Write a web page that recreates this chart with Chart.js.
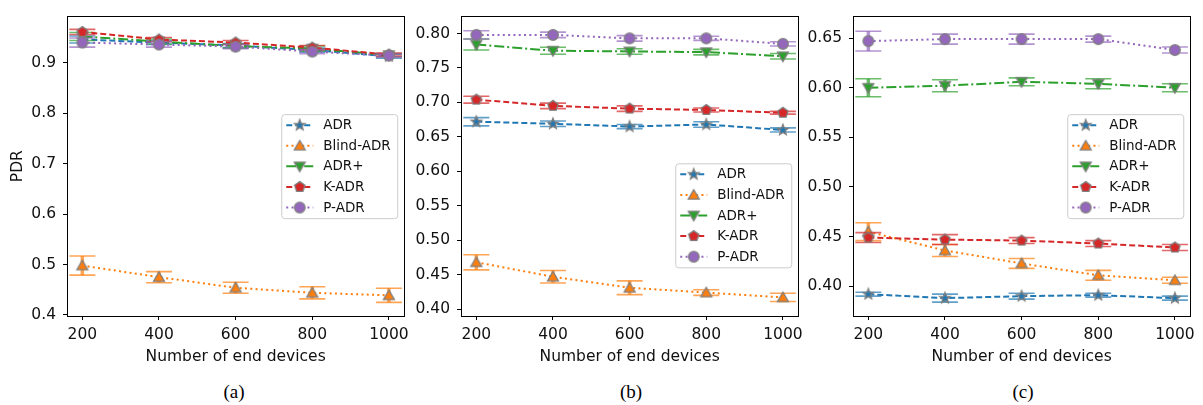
<!DOCTYPE html>
<html>
<head>
<meta charset="utf-8">
<script src="https://cdn.jsdelivr.net/npm/chart.js@4.4.1/dist/chart.umd.min.js"></script>
<style>
body{margin:0;background:#fff;width:1203px;height:405px;position:relative;overflow:hidden}
canvas{position:absolute;top:0}
.cap{position:absolute;top:380px;font-family:"Liberation Serif","DejaVu Serif",serif;font-size:19px;line-height:24px;transform:translateX(-50%);color:#000}
</style>
</head>
<body>
<canvas id="pa" width="415" height="366" style="left:0px"></canvas>
<canvas id="pb" width="408" height="366" style="left:401px"></canvas>
<canvas id="pc" width="408" height="366" style="left:793px"></canvas>
<div class="cap" style="left:234px">(a)</div>
<div class="cap" style="left:631px">(b)</div>
<div class="cap" style="left:1023px">(c)</div>
<script>
// x values shared by all three panels
const devices = [200, 400, 600, 800, 1000];
const names = ['ADR', 'Blind-ADR', 'ADR+', 'K-ADR', 'P-ADR'];

// panel (a)
const adrA = [0.946, 0.940, 0.934, 0.925, 0.913];
const adrErrA = [0.007, 0.004, 0.004, 0.004, 0.004];
const blindA = [0.498, 0.475, 0.454, 0.444, 0.439];
const blindErrA = [0.019, 0.011, 0.011, 0.012, 0.014];
const plusA = [0.952, 0.942, 0.933, 0.928, 0.915];
const plusErrA = [0.008, 0.005, 0.004, 0.005, 0.003];
const kadrA = [0.961, 0.946, 0.940, 0.930, 0.916];
const kadrErrA = [0.005, 0.004, 0.004, 0.004, 0.003];
const padrA = [0.940, 0.936, 0.932, 0.922, 0.914];
const padrErrA = [0.009, 0.005, 0.004, 0.004, 0.003];

// panel (b)
const adrB = [0.672, 0.669, 0.665, 0.668, 0.660];
const adrErrB = [0.006, 0.004, 0.003, 0.004, 0.003];
const blindB = [0.468, 0.447, 0.431, 0.424, 0.417];
const blindErrB = [0.011, 0.009, 0.010, 0.004, 0.006];
const plusB = [0.784, 0.775, 0.774, 0.773, 0.767];
const plusErrB = [0.008, 0.005, 0.004, 0.004, 0.004];
const kadrB = [0.704, 0.695, 0.691, 0.689, 0.685];
const kadrErrB = [0.005, 0.004, 0.004, 0.003, 0.002];
const padrB = [0.798, 0.798, 0.793, 0.793, 0.785];
const padrErrB = [0.006, 0.004, 0.004, 0.003, 0.003];

// panel (c)
const adrC = [0.392, 0.388, 0.390, 0.391, 0.388];
const adrErrC = [0.002, 0.004, 0.003, 0.002, 0.002];
const blindC = [0.455, 0.436, 0.423, 0.411, 0.406];
const blindErrC = [0.009, 0.006, 0.005, 0.005, 0.003];
const plusC = [0.600, 0.602, 0.606, 0.604, 0.600];
const plusErrC = [0.009, 0.006, 0.004, 0.005, 0.004];
const kadrC = [0.449, 0.447, 0.446, 0.443, 0.439];
const kadrErrC = [0.005, 0.005, 0.003, 0.003, 0.003];
const padrC = [0.647, 0.649, 0.649, 0.649, 0.638];
const padrErrC = [0.010, 0.005, 0.005, 0.003, 0.003];

// tick labels
const xTicks = [200, 400, 600, 800, 1000];
const yTicksA = [0.4, 0.5, 0.6, 0.7, 0.8, 0.9];
const yTicksB = [0.40, 0.45, 0.50, 0.55, 0.60, 0.65, 0.70, 0.75, 0.80];
const yTicksC = [0.40, 0.45, 0.50, 0.55, 0.60, 0.65];

const colors = ['#1f77b4', '#ff7f0e', '#2ca02c', '#d62728', '#9467bd'];
const dashes = [[6, 3], [2, 3.3], [10, 3, 2, 3], [6, 3], [2, 3.3]];
const shapes = ['star', 'tri', 'tridown', 'pent', 'circle'];

Chart.defaults.font.family = 'DejaVu Sans';
Chart.defaults.font.size = 15.5;
Chart.defaults.color = '#111';

function polygon(g, n, r, rot, inner) {
  g.beginPath();
  const steps = inner ? n * 2 : n;
  for (let k = 0; k < steps; k++) {
    const rr = inner && k % 2 ? inner : r;
    const a = rot + k * Math.PI * 2 / steps;
    const px = Math.cos(a) * rr, py = Math.sin(a) * rr;
    if (k == 0) g.moveTo(px, py); else g.lineTo(px, py);
  }
  g.closePath();
}

function makeMarker(shape, color) {
  const c = document.createElement('canvas');
  c.width = 16; c.height = 16;
  const g = c.getContext('2d');
  g.translate(8, 8);
  if (shape == 'circle') { g.beginPath(); g.arc(0, 0, 5.3, 0, Math.PI * 2); }
  else if (shape == 'star') polygon(g, 5, 5.6, -Math.PI / 2, 2.4);
  else if (shape == 'tri') { g.translate(0, 1); polygon(g, 3, 6.3, -Math.PI / 2); }
  else if (shape == 'tridown') { g.translate(0, -1); polygon(g, 3, 6.3, Math.PI / 2); }
  else polygon(g, 5, 5.4, -Math.PI / 2);
  g.fillStyle = color; g.fill();
  g.strokeStyle = '#7f7f7f'; g.lineWidth = 1.3; g.stroke();
  return c;
}
const markers = shapes.map((s, i) => makeMarker(s, colors[i]));

// draws each dataset's error bars just before its line and markers
const errorBars = {
  id: 'errorBars',
  beforeDatasetDraw(chart, args) {
    const ds = chart.data.datasets[args.index];
    const y = chart.scales.y, ctx = chart.ctx;
    ctx.save();
    ctx.strokeStyle = ds.borderColor;
    ctx.globalAlpha = 0.7;
    args.meta.data.forEach((pt, i) => {
      const v = ds.data[i].y, e = ds.errors[i];
      const t = y.getPixelForValue(v + e), b = y.getPixelForValue(v - e);
      ctx.lineWidth = 3.5;
      ctx.beginPath(); ctx.moveTo(pt.x, t); ctx.lineTo(pt.x, b); ctx.stroke();
      ctx.lineWidth = 1.6;
      ctx.beginPath();
      ctx.moveTo(pt.x - 13, t); ctx.lineTo(pt.x + 13, t);
      ctx.moveTo(pt.x - 13, b); ctx.lineTo(pt.x + 13, b);
      ctx.stroke();
    });
    ctx.restore();
  }
};

const frame = {
  id: 'frame',
  afterDatasetsDraw(chart) {
    const a = chart.chartArea, ctx = chart.ctx;
    ctx.save();
    ctx.strokeStyle = '#000'; ctx.lineWidth = 1;
    ctx.strokeRect(Math.round(a.left) + 0.5, Math.round(a.top) + 0.5, Math.round(a.right - a.left), Math.round(a.bottom - a.top));
    ctx.restore();
  }
};

const boxLegend = {
  id: 'boxLegend',
  afterDraw(chart, args, opts) {
    const ctx = chart.ctx, a = chart.chartArea;
    const w = 116, h = 104;
    const left = a.right - 7 - w;
    const top = opts.top != null ? a.top + opts.top : (a.top + a.bottom) / 2 - h / 2;
    ctx.save();
    ctx.beginPath();
    ctx.roundRect(left + 0.5, top + 0.5, w, h, 3);
    ctx.fillStyle = 'rgba(255,255,255,0.8)'; ctx.fill();
    ctx.strokeStyle = '#cccccc'; ctx.lineWidth = 1; ctx.stroke();
    chart.data.datasets.forEach((ds, i) => {
      const cy = top + 11 + i * 20.6;
      ctx.strokeStyle = ds.borderColor; ctx.lineWidth = 2;
      ctx.setLineDash(ds.borderDash);
      ctx.beginPath(); ctx.moveTo(left + 5, cy); ctx.lineTo(left + 32, cy); ctx.stroke();
      ctx.setLineDash([]);
      ctx.drawImage(ds.pointStyle, left + 18.5 - 8, cy - 8);
      ctx.fillStyle = '#111';
      ctx.font = '13.5px "DejaVu Sans"';
      ctx.textBaseline = 'middle';
      ctx.fillText(ds.label, left + 42, cy + 0.5);
    });
    ctx.restore();
  }
};

function makePanel(id, series, errs, yMin, yMax, yTicks, dec, yW, showTitle, legendTop) {
  const datasets = series.map((vals, i) => ({
    label: names[i],
    data: devices.map((d, k) => ({ x: d, y: vals[k] })),
    errors: errs[i],
    borderColor: colors[i],
    backgroundColor: colors[i],
    borderWidth: 2,
    borderDash: dashes[i],
    pointStyle: markers[i],
    pointRadius: 6,
    order: 4 - i,
    tension: 0,
    fill: false
  }));
  return new Chart(document.getElementById(id), {
    type: 'line',
    data: { datasets },
    plugins: [errorBars, frame, boxLegend],
    options: {
      responsive: false,
      animation: false,
      devicePixelRatio: 1,
      layout: { padding: { top: 5, right: 8, left: 0, bottom: 0 } },
      plugins: { legend: { display: false }, tooltip: { enabled: false }, boxLegend: { top: legendTop } },
      scales: {
        x: {
          type: 'linear', min: 160, max: 1040,
          afterBuildTicks: s => { s.ticks = xTicks.map(v => ({ value: v })); },
          afterFit: s => { s.height = 50; },
          ticks: { padding: 6, callback: v => String(v) },
          grid: { drawOnChartArea: false, tickLength: 4, color: '#000' },
          border: { display: false },
          title: { display: true, text: 'Number of end devices', padding: { top: 0, bottom: 0 } }
        },
        y: {
          type: 'linear', min: yMin, max: yMax,
          afterBuildTicks: s => { s.ticks = yTicks.map(v => ({ value: v })); },
          afterFit: s => { s.width = yW; },
          ticks: { padding: 7, callback: v => v.toFixed(dec) },
          grid: { drawOnChartArea: false, tickLength: 4, color: '#000' },
          border: { display: false },
          title: { display: showTitle, text: 'PDR', padding: { top: 9, bottom: 0 } }
        }
      }
    }
  });
}

makePanel('pa', [adrA, blindA, plusA, kadrA, padrA], [adrErrA, blindErrA, plusErrA, kadrErrA, padrErrA],
  0.398, 0.992, yTicksA, 1, 67, true, null);
makePanel('pb', [adrB, blindB, plusB, kadrB, padrB], [adrErrB, blindErrB, plusErrB, kadrErrB, padrErrB],
  0.390, 0.825, yTicksB, 2, 60, false, 147);
makePanel('pc', [adrC, blindC, plusC, kadrC, padrC], [adrErrC, blindErrC, plusErrC, kadrErrC, padrErrC],
  0.370, 0.672, yTicksC, 2, 60, false, null);
</script>
</body>
</html>
